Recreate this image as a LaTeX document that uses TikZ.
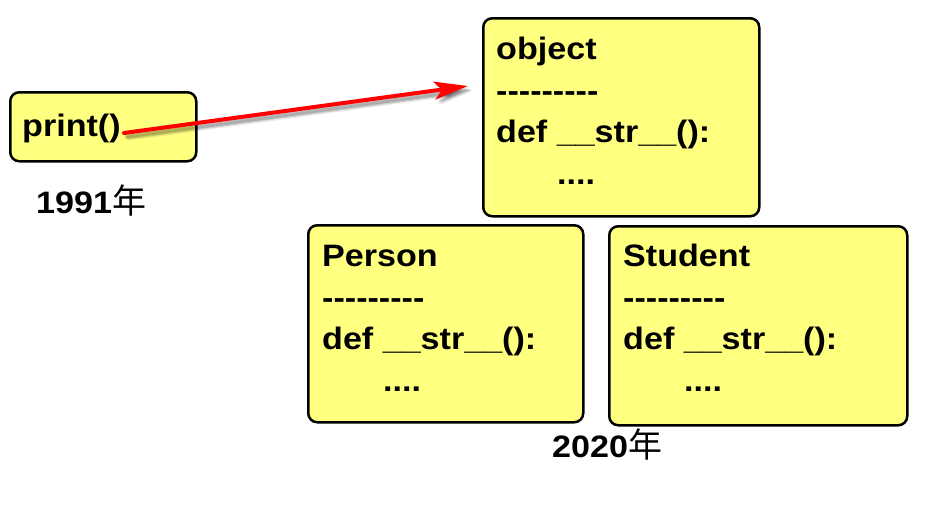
\documentclass[tikz,border=0pt]{standalone}
\usepackage{fontspec}
\setmainfont{Liberation Sans}
\newfontfamily\boxfont[FakeStretch=1.1]{Liberation Sans}
\newfontfamily\cjk{Noto Sans CJK SC}
\usetikzlibrary{arrows.meta, calc}

\definecolor{boxyellow}{RGB}{255,255,128}
\definecolor{arrowred}{RGB}{255,0,0}
\newcommand\dashline{-\kern0pt-\kern0pt-\kern0pt-\kern0pt-\kern0pt-\kern0pt-\kern0pt-\kern0pt-}
\newcommand\nian{{\cjk\mdseries\fontsize{34}{37}\selectfont 年}}

\tikzset{
    cls/.style={draw=black, line width=2.5pt, rounded corners=9pt, fill=boxyellow,
        anchor=north west, inner sep=0pt},
    % anchored at the baseline of the last line
    code/.style={anchor=base west, align=left, inner sep=0pt,
        font=\boxfont\fontsize{31}{41.5}\selectfont\bfseries},
    yearlabel/.style={anchor=base west, inner sep=0pt,
        font=\boxfont\fontsize{31}{37}\selectfont\bfseries},
}

\begin{document}
\begin{tikzpicture}[x=1pt, y=-1pt, line join=round, line cap=round]
    \useasboundingbox (0,0) rectangle (946,520);

    % 1. boxes
    \node[cls, minimum width=186, minimum height=69] (printBox) at (9,91) {};
    \node[cls, minimum width=276, minimum height=198] (objectBox) at (482,17) {};
    \node[cls, minimum width=275, minimum height=197] (personBox) at (307,224) {};
    \node[cls, minimum width=298, minimum height=199] (studentBox) at (608,225) {};

    % 2. texts in the boxes
    \node[code] (printText) at (22,136) {print()};
    \node[code] (objectText) at (496,184) {object\\\dashline\\def \_\_str\_\_():\\\hspace*{61pt}....};
    \node[code] (personText) at (322,391) {Person\\\dashline\\def \_\_str\_\_():\\\hspace*{61pt}....};
    \node[code] (studentText) at (623,391) {Student\\\dashline\\def \_\_str\_\_():\\\hspace*{61pt}....};

    % 3. years
    \node[yearlabel] (year1991) at (36,213) {1991\nian};
    \node[yearlabel] (year2020) at (552,457) {2020\nian};

    % 4. arrow print() -> object, with a soft shadow
    \coordinate (printEnd) at (124,133);
    \coordinate (objectPoint) at (468,86);
    \foreach \s/\o in {5/0.08, 4/0.12, 3/0.16} {
        \draw[black, opacity=\o, line width=5pt, -{Stealth[length=34pt, width=18pt, inset=8pt]}]
            ($(printEnd)+(\s,\s)$) -- ($(objectPoint)+(\s,\s)$);
    }
    \draw[arrowred, line width=4pt, -{Stealth[length=34pt, width=18pt, inset=8pt]}] (printEnd) -- (objectPoint);
\end{tikzpicture}
\end{document}
